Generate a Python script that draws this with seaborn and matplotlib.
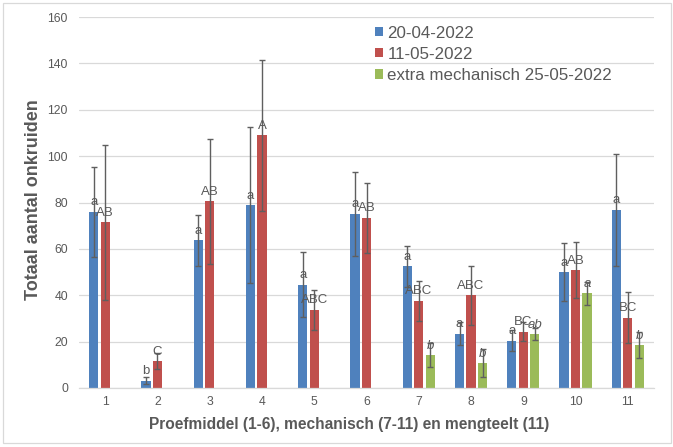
import matplotlib
matplotlib.use("Agg")
import matplotlib.pyplot as plt
import seaborn as sns
import pandas as pd
from matplotlib.patches import Rectangle

# Treatments on the category axis
groups = [str(i) for i in range(1, 12)]
series = ["20-04-2022", "11-05-2022", "extra mechanisch 25-05-2022"]
colors = ["#4F81BD", "#C0504D", "#9BBB59"]

# Counting 20-04-2022
mean_0420 = [76.0, 3.2, 63.7, 78.8, 44.6, 75.1, 52.4, 23.4, 20.4, 50.0, 76.8]
sd_0420 = [19.5, 1.4, 11.0, 33.7, 14.0, 18.0, 9.0, 5.0, 4.5, 12.4, 24.0]
letters_0420 = ["a", "b", "a", "a", "a", "a", "a", "a", "a", "a", "a"]

# Counting 11-05-2022
mean_1105 = [71.5, 11.6, 80.6, 108.9, 33.7, 73.4, 37.6, 39.9, 24.3, 50.8, 30.4]
sd_1105 = [33.5, 3.4, 27.0, 32.5, 8.7, 15.2, 8.6, 12.9, 4.2, 12.1, 11.2]
letters_1105 = ["AB", "C", "AB", "A", "ABC", "AB", "ABC", "ABC", "BC", "AB", "BC"]

# Extra mechanical treatment, counted 25-05-2022 (only objects 7-11)
groups_extra = ["7", "8", "9", "10", "11"]
mean_extra = [14.2, 10.7, 23.2, 40.9, 18.4]
sd_extra = [5.0, 6.0, 2.7, 4.9, 5.6]
letters_extra = ["b", "b", "ab", "a", "b"]

rows = []
for g, m, s, l in zip(groups, mean_0420, sd_0420, letters_0420):
    rows.append((g, series[0], m, s, l))
for g, m, s, l in zip(groups, mean_1105, sd_1105, letters_1105):
    rows.append((g, series[1], m, s, l))
for g, m, s, l in zip(groups_extra, mean_extra, sd_extra, letters_extra):
    rows.append((g, series[2], m, s, l))
df = pd.DataFrame(rows, columns=["object", "datum", "aantal", "sd", "letter"])

sns.set_theme(style="white")
plt.rcParams["font.family"] = ["Liberation Sans", "DejaVu Sans"]
text_grey = "#595959"
line_grey = "#D9D9D9"

fig = plt.figure(figsize=(6.73, 4.47), dpi=100)
ax = fig.add_axes([79 / 673, 59 / 447, 575 / 673, 371 / 447])

sns.barplot(data=df, x="object", y="aantal", hue="datum",
            order=groups, hue_order=series, palette=colors,
            width=0.66, gap=0.2, errorbar=None, saturation=1,
            linewidth=0, ax=ax)

# Error bars and significance letters per bar
bar_containers = list(ax.containers)
for h, container in enumerate(bar_containers):
    sub = df[df["datum"] == series[h]].set_index("object")
    for bar in container:
        xc = bar.get_x() + bar.get_width() / 2
        g = groups[int(round(xc))]
        if g not in sub.index:
            continue
        val = sub.loc[g, "aantal"]
        sd = sub.loc[g, "sd"]
        ax.errorbar(xc, val, yerr=sd, fmt="none", ecolor="#5f5f5f",
                    elinewidth=1.0, capsize=2.2, capthick=1.0, zorder=3)
        ax.annotate(sub.loc[g, "letter"], (xc, val), xytext=(0, 2.5),
                    textcoords="offset points", ha="center", va="bottom",
                    fontsize=9.5, color=text_grey,
                    fontstyle="italic" if h == 2 else "normal", zorder=4)

ax.set_ylim(0, 160)
ax.set_xlim(-0.5, 10.5)
ax.set_yticks(range(0, 161, 20))
ax.yaxis.grid(True, color=line_grey, linewidth=0.9)
ax.set_axisbelow(True)
for side in ["left", "right", "top"]:
    ax.spines[side].set_visible(False)
ax.spines["bottom"].set_color(line_grey)
ax.spines["bottom"].set_linewidth(0.9)
ax.tick_params(axis="both", length=0, labelsize=8.8, labelcolor=text_grey)
ax.tick_params(axis="y", pad=8)
ax.tick_params(axis="x", pad=6)

ax.set_xlabel("Proefmiddel (1-6), mechanisch (7-11) en mengteelt (11)",
              fontsize=11.2, fontweight="bold", color=text_grey)
ax.set_ylabel("Totaal aantal onkruiden", fontsize=13, fontweight="bold",
              color=text_grey)
ax.xaxis.set_label_coords(0.469, -0.079)
ax.yaxis.set_label_coords(-0.064, 0.507)

handles, labels = ax.get_legend_handles_labels()
ax.legend(handles, labels, loc="upper left", bbox_to_anchor=(0.515, 0.977),
          frameon=False, fontsize=12.2, labelcolor=text_grey,
          handlelength=0.47, handleheight=0.47, handletextpad=0.25,
          labelspacing=0.37, borderpad=0, borderaxespad=0)

# Chart area border
fig.patches.append(Rectangle((2.5 / 673, 4 / 447), 668 / 673, 440 / 447,
                             transform=fig.transFigure, fill=False,
                             edgecolor=line_grey, linewidth=0.9))

fig.savefig("out.png", dpi=100)
